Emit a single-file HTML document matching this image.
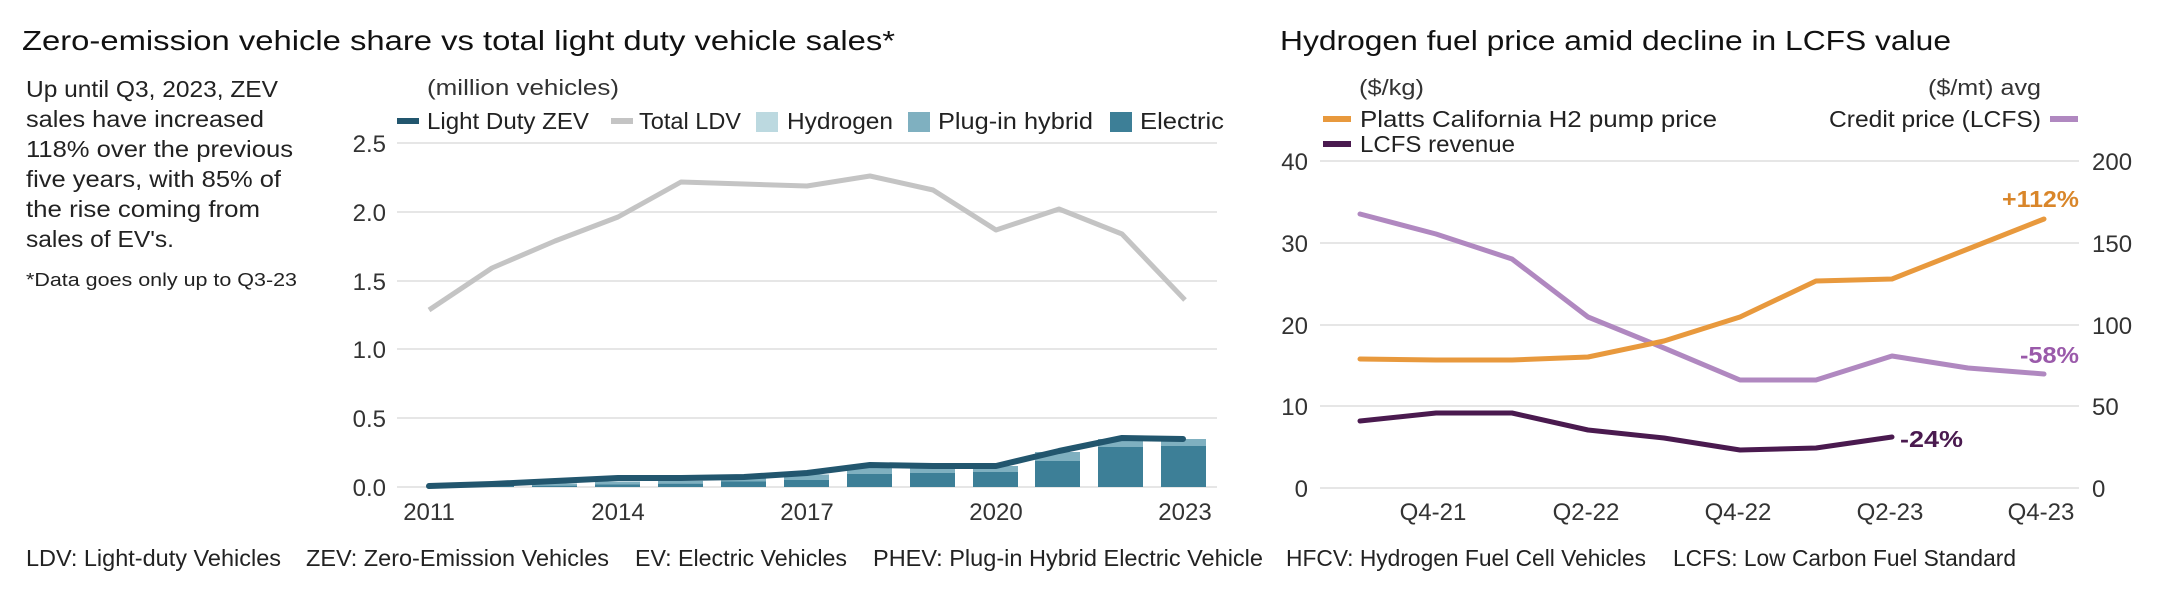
<!DOCTYPE html>
<html><head><meta charset="utf-8"><style>
body{margin:0;background:#fff;}
svg{display:block;font-family:"Liberation Sans",sans-serif;}
</style></head><body>
<svg width="2164" height="590" viewBox="0 0 2164 590" xmlns="http://www.w3.org/2000/svg">
<rect width="2164" height="590" fill="#fff"/>
<!-- LEFT CHART -->
<text x="22" y="50" font-size="28" fill="#111" textLength="873" lengthAdjust="spacingAndGlyphs">Zero-emission vehicle share vs total light duty vehicle sales*</text>
<g font-size="23" fill="#222">
<text x="26" y="97" textLength="252" lengthAdjust="spacingAndGlyphs">Up until Q3, 2023, ZEV</text>
<text x="26" y="127" textLength="238" lengthAdjust="spacingAndGlyphs">sales have increased</text>
<text x="26" y="157" textLength="267" lengthAdjust="spacingAndGlyphs">118% over the previous</text>
<text x="26" y="187" textLength="255" lengthAdjust="spacingAndGlyphs">five years, with 85% of</text>
<text x="26" y="217" textLength="234" lengthAdjust="spacingAndGlyphs">the rise coming from</text>
<text x="26" y="247" textLength="148" lengthAdjust="spacingAndGlyphs">sales of EV's.</text>
</g>
<text x="26" y="286" font-size="18" fill="#222" textLength="271" lengthAdjust="spacingAndGlyphs">*Data goes only up to Q3-23</text>
<text x="427" y="95" font-size="22" fill="#333" textLength="192" lengthAdjust="spacingAndGlyphs">(million vehicles)</text>
<!-- legend -->
<g font-size="23" fill="#222">
<rect x="397" y="118" width="22" height="6" fill="#22566e"/><text x="427" y="129" textLength="162" lengthAdjust="spacingAndGlyphs">Light Duty ZEV</text>
<rect x="611" y="118" width="22" height="6" fill="#c4c4c4"/><text x="639" y="129" textLength="102" lengthAdjust="spacingAndGlyphs">Total LDV</text>
<rect x="756" y="112" width="22" height="20" fill="#bcd9e0"/><text x="787" y="129" textLength="106" lengthAdjust="spacingAndGlyphs">Hydrogen</text>
<rect x="908" y="112" width="22" height="20" fill="#7fb0c0"/><text x="938" y="129" textLength="155" lengthAdjust="spacingAndGlyphs">Plug-in hybrid</text>
<rect x="1110" y="112" width="22" height="20" fill="#3d7f97"/><text x="1140" y="129" textLength="84" lengthAdjust="spacingAndGlyphs">Electric</text>
</g>
<!-- grid -->
<g stroke="#e6e6e6" stroke-width="2">
<line x1="397" x2="1217" y1="143" y2="143"/><line x1="397" x2="1217" y1="212" y2="212"/>
<line x1="397" x2="1217" y1="281" y2="281"/><line x1="397" x2="1217" y1="349" y2="349"/>
<line x1="397" x2="1217" y1="418" y2="418"/><line x1="397" x2="1217" y1="487" y2="487"/>
</g>
<g font-size="24" fill="#333" text-anchor="end">
<text x="386" y="152">2.5</text><text x="386" y="221">2.0</text><text x="386" y="290">1.5</text>
<text x="386" y="358">1.0</text><text x="386" y="427">0.5</text><text x="386" y="496">0.0</text>
</g>
<g font-size="24" fill="#333" text-anchor="middle">
<text x="429" y="520">2011</text><text x="618" y="520">2014</text><text x="807" y="520">2017</text>
<text x="996" y="520">2020</text><text x="1185" y="520">2023</text>
</g>
<!-- bars -->
<g>
<rect x="469" y="486" width="45" height="1" fill="#3d7f97"/><rect x="469" y="485" width="45" height="1" fill="#7fb0c0"/>
<rect x="532" y="485.6" width="45" height="1.4" fill="#3d7f97"/><rect x="532" y="483.5" width="45" height="2.1" fill="#7fb0c0"/>
<rect x="595" y="484.2" width="45" height="2.8" fill="#3d7f97"/><rect x="595" y="481.5" width="45" height="2.7" fill="#7fb0c0"/>
<rect x="658" y="483.6" width="45" height="3.4" fill="#3d7f97"/><rect x="658" y="480.8" width="45" height="2.8" fill="#7fb0c0"/>
<rect x="721" y="481.5" width="45" height="5.5" fill="#3d7f97"/><rect x="721" y="478" width="45" height="3.5" fill="#7fb0c0"/>
<rect x="784" y="480" width="45" height="7" fill="#3d7f97"/><rect x="784" y="474.5" width="45" height="5.5" fill="#7fb0c0"/>
<rect x="847" y="474" width="45" height="13" fill="#3d7f97"/><rect x="847" y="465" width="45" height="9" fill="#7fb0c0"/>
<rect x="910" y="473" width="45" height="14" fill="#3d7f97"/><rect x="910" y="466" width="45" height="7" fill="#7fb0c0"/>
<rect x="973" y="472" width="45" height="15" fill="#3d7f97"/><rect x="973" y="466" width="45" height="6" fill="#7fb0c0"/>
<rect x="1035" y="461" width="45" height="26" fill="#3d7f97"/><rect x="1035" y="452" width="45" height="9" fill="#7fb0c0"/>
<rect x="1098" y="447" width="45" height="40" fill="#3d7f97"/><rect x="1098" y="439" width="45" height="8" fill="#7fb0c0"/>
<rect x="1161" y="446" width="45" height="41" fill="#3d7f97"/><rect x="1161" y="439" width="45" height="7" fill="#7fb0c0"/>
</g>
<polyline fill="none" stroke="#c4c4c4" stroke-width="5" stroke-linejoin="round" points="429,310 492,268 555,241 618,217 681,182 744,184 807,186 870,176 933,190 996,230 1059,209 1122,234 1185,300"/>
<polyline fill="none" stroke="#22566e" stroke-width="6" stroke-linecap="round" stroke-linejoin="round" points="429,486 492,484 555,481 618,478 681,478 744,477 807,473 870,465 933,466 996,466 1059,451 1122,438 1183,439"/>
<!-- footer -->
<g font-size="23" fill="#222">
<text x="26" y="566" textLength="255" lengthAdjust="spacingAndGlyphs">LDV: Light-duty Vehicles</text>
<text x="306" y="566" textLength="303" lengthAdjust="spacingAndGlyphs">ZEV: Zero-Emission Vehicles</text>
<text x="635" y="566" textLength="212" lengthAdjust="spacingAndGlyphs">EV: Electric Vehicles</text>
<text x="873" y="566" textLength="390" lengthAdjust="spacingAndGlyphs">PHEV: Plug-in Hybrid Electric Vehicle</text>
<text x="1286" y="566" textLength="360" lengthAdjust="spacingAndGlyphs">HFCV: Hydrogen Fuel Cell Vehicles</text>
<text x="1673" y="566" textLength="343" lengthAdjust="spacingAndGlyphs">LCFS: Low Carbon Fuel Standard</text>
</g>
<!-- RIGHT CHART -->
<text x="1280" y="50" font-size="28" fill="#111" textLength="671" lengthAdjust="spacingAndGlyphs">Hydrogen fuel price amid decline in LCFS value</text>
<text x="1359" y="95" font-size="22" fill="#333" textLength="65" lengthAdjust="spacingAndGlyphs">($/kg)</text>
<text x="1928" y="95" font-size="22" fill="#333" textLength="113" lengthAdjust="spacingAndGlyphs">($/mt) avg</text>
<g font-size="23" fill="#222">
<rect x="1323" y="116" width="28" height="6" fill="#e8993d"/><text x="1360" y="127" textLength="357" lengthAdjust="spacingAndGlyphs">Platts California H2 pump price</text>
<rect x="1323" y="141" width="28" height="6" fill="#4a1a4f"/><text x="1360" y="152" textLength="155" lengthAdjust="spacingAndGlyphs">LCFS revenue</text>
<text x="1829" y="127" textLength="212" lengthAdjust="spacingAndGlyphs">Credit price (LCFS)</text>
<rect x="2050" y="116" width="28" height="6" fill="#b088c0"/>
</g>
<g stroke="#e6e6e6" stroke-width="2">
<line x1="1320" x2="2079" y1="161" y2="161"/><line x1="1320" x2="2079" y1="243" y2="243"/>
<line x1="1320" x2="2079" y1="325" y2="325"/><line x1="1320" x2="2079" y1="406" y2="406"/>
<line x1="1320" x2="2079" y1="488" y2="488"/>
</g>
<g font-size="24" fill="#333" text-anchor="end">
<text x="1308" y="170">40</text><text x="1308" y="252">30</text><text x="1308" y="334">20</text>
<text x="1308" y="415">10</text><text x="1308" y="497">0</text>
</g>
<g font-size="24" fill="#333">
<text x="2092" y="170">200</text><text x="2092" y="252">150</text><text x="2092" y="334">100</text>
<text x="2092" y="415">50</text><text x="2092" y="497">0</text>
</g>
<g font-size="24" fill="#333" text-anchor="middle">
<text x="1433" y="520">Q4-21</text><text x="1586" y="520">Q2-22</text><text x="1738" y="520">Q4-22</text>
<text x="1890" y="520">Q2-23</text><text x="2041" y="520">Q4-23</text>
</g>
<polyline fill="none" stroke="#b088c0" stroke-width="5" stroke-linecap="round" stroke-linejoin="round" points="1360,214 1436,234 1512,259 1588,317 1664,348 1740,380 1816,380 1892,356 1968,368 2044,374"/>
<polyline fill="none" stroke="#e8993d" stroke-width="5" stroke-linecap="round" stroke-linejoin="round" points="1360,359 1436,360 1512,360 1588,357 1664,341 1740,317 1816,281 1892,279 1968,249 2044,219"/>
<polyline fill="none" stroke="#4a1a4f" stroke-width="5" stroke-linecap="round" stroke-linejoin="round" points="1360,421 1436,413 1512,413 1588,430 1664,438 1740,450 1816,448 1892,437"/>
<text x="2002" y="207" font-size="23" font-weight="bold" fill="#d9862a" textLength="77" lengthAdjust="spacingAndGlyphs">+112%</text>
<text x="2020" y="363" font-size="23" font-weight="bold" fill="#9a5aaa" textLength="59" lengthAdjust="spacingAndGlyphs">-58%</text>
<text x="1900" y="447" font-size="23" font-weight="bold" fill="#4a1a4f" textLength="63" lengthAdjust="spacingAndGlyphs">-24%</text>
</svg>
</body></html>
